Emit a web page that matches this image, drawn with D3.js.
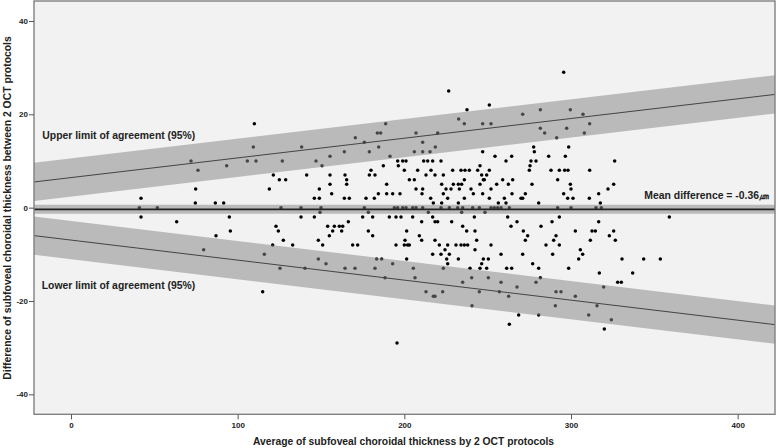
<!DOCTYPE html>
<html><head><meta charset="utf-8">
<script src="https://cdn.jsdelivr.net/npm/d3@7"></script>
<style>
body{margin:0;background:#fff}
svg{display:block}
text{font-family:"Liberation Sans",Arial,sans-serif;font-weight:bold;fill:#222}
</style>
</head><body>
<svg id="c" width="776" height="448"></svg>
<script>
// ---------- data ----------
const xTicks = [0, 100, 200, 300, 400];
const yTicks = [-40, -20, 0, 20, 40];
const meanDiff = -0.36;
const meanCIHalf = 0.97;
const upperIntercept = 6.44, upperSlope = 0.0422;
const lowerIntercept = -6.95, lowerSlope = -0.0429;
const limitCIHalf = 4.1;
const xLabel = "Average of subfoveal choroidal thickness by 2 OCT protocols";
const yLabel = "Difference of subfoveal choroidal thickness between 2 OCT protocols";
const upperText = "Upper limit of agreement (95%)";
const lowerText = "Lower limit of agreement (95%)";
const meanText = "Mean difference = -0.36\u339B";

// differences (rows) and the averages of the points on each row
const diffLevels = [29,25,22,21,20,19,18,17,16,15,14,13,12,11,10,9,8,7,6,5,4,3,2,1,0,
  -1,-2,-3,-4,-5,-6,-7,-8,-9,-10,-11,-12,-13,-14,-15,-16,-17,-18,-19,-21,-23,-24,-25,-26,-29];
const averagesAtLevel = [
  [295.6],
  [226.6],
  [251],
  [237.6,281.6,299.6],
  [271,307.2],
  [232.6],
  [110,236,247,252,188.8,311.2],
  [281.6,297.4],
  [183.8,185.8,207,220,284.2,308],
  [170.6,291.4],
  [176,211],
  [109.4,138.4,184.6,218.6,277.6,298.6],
  [164,179,206,211,215.4,247,278],
  [155.4,191.4,254.4,264.4,286.6,296.6],
  [72,105.8,111,126.8,147,196,199,201,211.6,214,217,222,261,276,279,326.2],
  [93.4,150.6,187.4,196.4,245.4,275.4],
  [76.2,180,200,208,216,229,234,236.4,239,244,251,275,288,293,296.2,298.2,311.2],
  [121.4,141.4,155.4,164.4,179,182.4,213,218.4,223.4,246.4,249.4],
  [125,128.8,165.4,203,206,236,247.4,248,259,265,292],
  [155.4,165.4,189.4,222.4,229.4,232.4,234.4,245.4,255.4,262.4,276.6,299.6,325.6],
  [74.8,119,149,207,211,225,228,233,240,252,300,322.2],
  [156.4,184.4,189.4,193,197.4,210.6,223.4,241.4,247,264.6,272.6,295.6,316.6],
  [42,146,149,164,167,177,182,215.8,226,236,251,260,270,271,298,301.2,311],
  [74.6,86.6,91.6,217.4,222.4,232.4,256.4,261,280.6,317.6],
  [41,51.8,126,138,150,176,194,196,199,201,205,207,211,222,227,232,235,241,245,252,254,256,258,263,292,300,315,318.2],
  [149.4,178.4,214.4,234.4,248.4],
  [42,95,138,146,175,181,191,195,198,205,217,242,262,293,359],
  [63.4,166.4,210.4,218.4,220,228.4,267.6,288.6,316.6],
  [123,154,158,161,163,235,264,282],
  [95.6,124.4,157,162.4,178.4,201.4,237.4,242.4,271.4,302.6,312.6,314.6,325.6],
  [87,155,181,209,274,291,323],
  [127.4,148.4,200.4,210.4,218.4,243.4,272.6,289.6,311.6,326.6],
  [121,133,151,169,172,195,200,202,203,221,226,231,234,236,238,252,285,293],
  [79.6,224.4,242.4,305.6],
  [116,217,222,227,258,271,289,307],
  [148.4,183.4,186.4,201.4,225.4,232.4,247.4,250.4,304.6,330.6,343.6,353.6],
  [153,193,226,246.4,277],
  [125.4,140.4,164.4,170.4,182.4,205.4,223.4,239.4,245.4,249.4,261.4,264.4,280.6,298.6],
  [317,337],
  [188.4,206.4,240.4,250.4,281.6],
  [235,258,279,328,330.2],
  [267.6,319.6],
  [115,213,223,245,257,291,294],
  [217.4,218.4,262.6,302.6],
  [240.6,290.6,315.6],
  [268.6,280.6,310.6],
  [324.2],
  [263],
  [320],
  [195.6]
];

// ---------- layout ----------
const svg = d3.select("#c");
const L = 34, R = 775, T = 1, B = 414.3;
const x = d3.scaleLinear().domain([-22.2, 422.4]).range([L, R]);
const y = d3.scaleLinear().domain([-44.28, 44.28]).range([B, T]);

const points = [];
diffLevels.forEach((d, i) => averagesAtLevel[i].forEach(a => points.push({a, d})));

svg.append("rect").attr("x", L).attr("y", T).attr("width", R - L).attr("height", B - T)
  .attr("fill", "#f2f2f2");

svg.append("clipPath").attr("id", "pc").append("rect")
  .attr("x", L).attr("y", T).attr("width", R - L).attr("height", B - T);
const plot = svg.append("g").attr("clip-path", "url(#pc)");

plot.append("g").selectAll("circle").data(points).join("circle")
  .attr("cx", p => x(p.a)).attr("cy", p => y(p.d)).attr("r", 1.75).attr("fill", "#000");

const xs = [-22.2, 422.4];
function band(fc, half) {
  const area = d3.area().x(v => x(v)).y0(v => y(fc(v) - half)).y1(v => y(fc(v) + half));
  plot.append("path").attr("d", area(xs)).attr("fill", "#878787").attr("fill-opacity", 0.52);
}
function line(fc, w, col) {
  const ln = d3.line().x(v => x(v)).y(v => y(fc(v)));
  plot.append("path").attr("d", ln(xs)).attr("fill", "none").attr("stroke", col).attr("stroke-width", w);
}
const upper = v => upperIntercept + upperSlope * v;
const lower = v => lowerIntercept + lowerSlope * v;
const mean = v => meanDiff;
band(upper, limitCIHalf);
band(lower, limitCIHalf);
band(mean, meanCIHalf);
line(upper, 1, "#444");
line(lower, 1, "#444");
line(mean, 1.6, "#222");

svg.append("rect").attr("x", L).attr("y", T).attr("width", R - L).attr("height", B - T)
  .attr("fill", "none").attr("stroke", "#808080").attr("stroke-width", 1.4);

// axes
const ax = svg.append("g").attr("transform", `translate(0,${B})`)
  .call(d3.axisBottom(x).tickValues(xTicks).tickSize(5).tickSizeOuter(0).tickPadding(3).tickFormat(d => String(d)));
const ay = svg.append("g").attr("transform", `translate(${L},0)`)
  .call(d3.axisLeft(y).tickValues(yTicks).tickSize(5).tickSizeOuter(0).tickPadding(1).tickFormat(d => String(d)));
[ax, ay].forEach(g => {
  g.select(".domain").remove();
  g.selectAll(".tick line").attr("stroke", "#555");
  g.selectAll(".tick text").attr("font-size", "8px").attr("font-family", "Liberation Sans, Arial, sans-serif")
    .attr("font-weight", "bold").attr("fill", "#222");
});

// texts
svg.append("text").attr("x", 42.3).attr("y", 135.7).attr("dy", "0.35em").attr("font-size", "10.4px").text(upperText);
svg.append("text").attr("x", 41.7).attr("y", 285.7).attr("dy", "0.35em").attr("font-size", "10.4px").text(lowerText);
svg.append("text").attr("x", 769).attr("y", 195.3).attr("dy", "0.35em").attr("text-anchor", "end")
  .attr("font-size", "10.4px").text(meanText);
svg.append("text").attr("x", 403.5).attr("y", 441.7).attr("dy", "0.35em").attr("text-anchor", "middle")
  .attr("font-size", "10.3px").text(xLabel);
svg.append("text").attr("transform", "translate(7,208) rotate(-90)").attr("dy", "0.35em")
  .attr("text-anchor", "middle").attr("font-size", "10.4px").text(yLabel);
</script>
</body></html>
